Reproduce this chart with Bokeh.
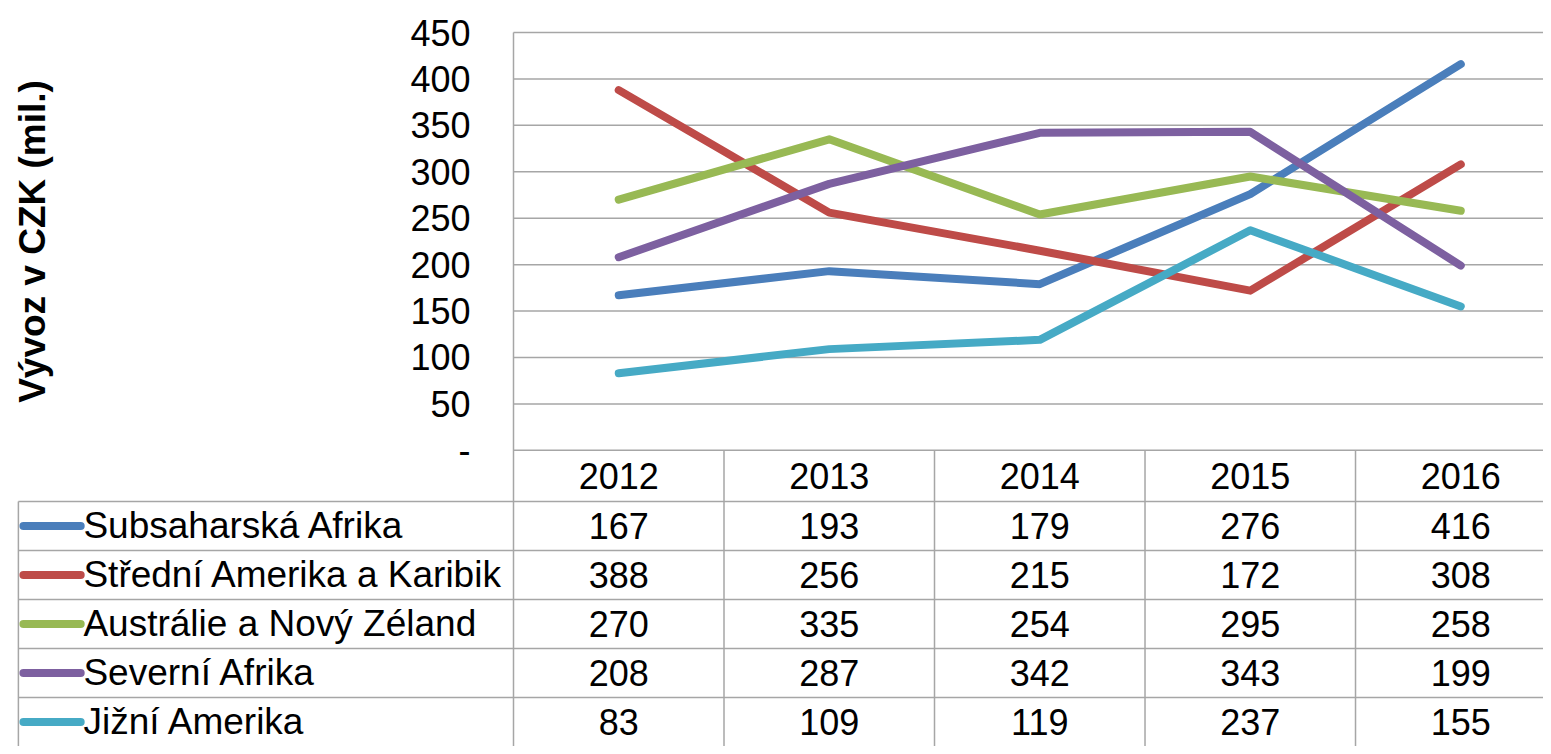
from bokeh.plotting import figure
from bokeh.models import Range1d, FixedTicker
from bokeh.core.properties import value
from bokeh.embed import file_html
from bokeh.resources import INLINE

years = [2012, 2013, 2014, 2015, 2016]
series_names = ["Subsaharská Afrika", "Střední Amerika a Karibik", "Austrálie a Nový Zéland",
                "Severní Afrika", "Jižní Amerika"]
subsaharska = [167, 193, 179, 276, 416]
stredni_amerika = [388, 256, 215, 172, 308]
australie = [270, 335, 254, 295, 258]
severni_afrika = [208, 287, 342, 343, 199]
jizni_amerika = [83, 109, 119, 237, 155]
series_values = [subsaharska, stredni_amerika, australie, severni_afrika, jizni_amerika]
colors = ["#4a7ebb", "#be4b48", "#98b954", "#7d60a0", "#46aac5"]
y_ticks = [0, 50, 100, 150, 200, 250, 300, 350, 400, 450]
y_title = "Vývoz v CZK (mil.)"

FONT = "Liberation Sans"
GRID = "#a6a6a6"

# layout (data units)
x_start, x_end = 2009.063, 2016.393
y_start, y_end = -319.0, 484.5
plot_left = years[0] - 0.5
legend_left = plot_left - 2.352
hdr = 55.0
rh = 52.8

p = figure(width=1543, height=746, x_range=Range1d(x_start, x_end), y_range=Range1d(y_start, y_end),
           output_backend="svg", toolbar_location=None, x_axis_type=None,
           min_border=0, min_border_left=0, min_border_right=0, min_border_top=0, min_border_bottom=0)
p.outline_line_color = None
p.background_fill_color = "white"
p.border_fill_color = "white"
p.xgrid.visible = False
p.ygrid.visible = False

ax = p.yaxis[0]
ax.fixed_location = plot_left
ax.bounds = (y_ticks[0], y_ticks[-1])
ax.ticker = FixedTicker(ticks=y_ticks)
ax.major_label_overrides = {0: "-"}
ax.major_label_text_font = FONT
ax.major_label_text_font_size = "36px"
ax.major_label_text_color = "black"
ax.major_tick_out = 0
ax.major_tick_in = 0
ax.minor_tick_out = 0
ax.minor_tick_in = 0
ax.major_label_standoff = 43
ax.axis_line_color = None
ax.axis_label = y_title
ax.axis_label_text_font = FONT
ax.axis_label_text_font_size = "37px"
ax.axis_label_text_font_style = "bold"
ax.axis_label_text_color = "black"
ax.axis_label_standoff = 354

# horizontal gridlines in plot area
p.segment(x0=[plot_left] * len(y_ticks), x1=[x_end] * len(y_ticks), y0=y_ticks, y1=y_ticks,
          line_color=GRID, line_width=1.5)

# table horizontal lines
n = len(series_names)
row_lines = [-(hdr + i * rh) for i in range(n)]
p.segment(x0=[legend_left] * n, x1=[x_end] * n, y0=row_lines, y1=row_lines,
          line_color=GRID, line_width=1.5)

# vertical lines
p.segment(x0=[plot_left], x1=[plot_left], y0=[y_ticks[-1]], y1=[y_start], line_color=GRID, line_width=1.5)
bounds = [y + 0.5 for y in years[:-1]]
p.segment(x0=bounds, x1=bounds, y0=[0] * len(bounds), y1=[y_start] * len(bounds),
          line_color=GRID, line_width=1.5)
p.segment(x0=[legend_left], x1=[legend_left], y0=[-hdr], y1=[y_start], line_color=GRID, line_width=1.5)

# series lines
for vals, c in zip(series_values, colors):
    p.line(years, vals, line_color=c, line_width=8, line_cap="round", line_join="round")

# header years
p.text(x=years, y=[-hdr / 2] * len(years), text=[str(y) for y in years],
       text_font=value(FONT), text_font_size="36px", text_align="center",
       text_baseline="middle", text_color="black")

# table rows
for i, (name, vals, c) in enumerate(zip(series_names, series_values, colors)):
    yc = -(hdr + (i + 0.5) * rh)
    p.text(x=years, y=[yc] * len(years), text=[str(v) for v in vals],
           text_font=value(FONT), text_font_size="36px", text_align="center",
           text_baseline="middle", text_color="black")
    p.segment(x0=[legend_left + 0.024], x1=[legend_left + 0.296], y0=[yc], y1=[yc],
              line_color=c, line_width=8, line_cap="round")
    p.text(x=[legend_left + 0.309], y=[yc], text=[name],
           text_font=value(FONT), text_font_size="37px", text_align="left",
           text_baseline="middle", text_color="black")

open("out.html", "w").write(file_html(p, INLINE))
